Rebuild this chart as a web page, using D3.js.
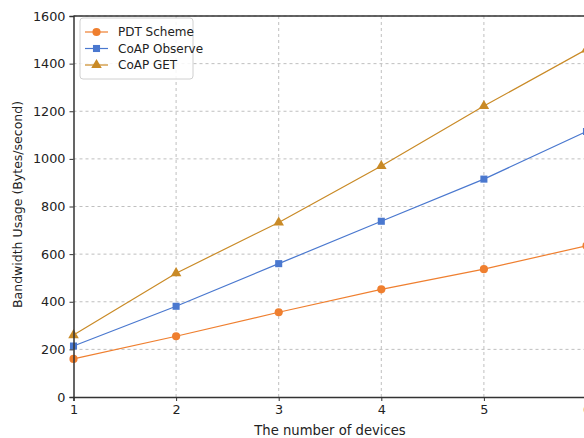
<!DOCTYPE html>
<html>
<head>
<meta charset="utf-8">
<script src="https://cdn.jsdelivr.net/npm/d3@7"></script>
<style>
  html, body { margin: 0; padding: 0; background: #fff; overflow: hidden; }
  svg { display: block; font-family: "DejaVu Sans", sans-serif; }
</style>
</head>
<body>
<svg id="chart" width="584" height="438"></svg>
<script>
const devices = [1, 2, 3, 4, 5, 6];
const pdtScheme = [160, 255, 356, 452, 537, 635];
const coapObserve = [214, 381, 560, 738, 915, 1115];
const coapGet = [260, 520, 733, 970, 1222, 1460];
const xTicks = [1, 2, 3, 4, 5, 6];
const yTicks = [0, 200, 400, 600, 800, 1000, 1200, 1400, 1600];
const seriesNames = ["PDT Scheme", "CoAP Observe", "CoAP GET"];
const seriesColors = ["#ef7f2f", "#4a78cf", "#c98a26"];
const seriesShapes = ["circle", "square", "triangle"];
const seriesData = [pdtScheme, coapObserve, coapGet];

const svg = d3.select("#chart");
const margin = { left: 73.5, top: 16, bottom: 41 };
const plotW = 513;
const plotH = 438 - margin.top - margin.bottom;

const x = d3.scaleLinear().domain([1, 6]).range([margin.left, margin.left + plotW]);
const y = d3.scaleLinear().domain([0, 1600]).range([margin.top + plotH, margin.top]);

// grid
const grid = svg.append("g");
grid.selectAll("line.gx").data(xTicks.slice(1)).enter().append("line")
  .attr("x1", d => x(d)).attr("x2", d => x(d))
  .attr("y1", margin.top).attr("y2", margin.top + plotH)
  .attr("stroke", "#b8b8b8").attr("stroke-width", 0.9).attr("stroke-dasharray", "3,3");
grid.selectAll("line.gy").data(yTicks.slice(1)).enter().append("line")
  .attr("x1", margin.left).attr("x2", margin.left + plotW)
  .attr("y1", d => y(d)).attr("y2", d => y(d))
  .attr("stroke", "#b8b8b8").attr("stroke-width", 0.9).attr("stroke-dasharray", "3,3");

// lines and markers
const symbolType = { circle: d3.symbolCircle, square: d3.symbolSquare, triangle: d3.symbolTriangle };
const symbolSize = { circle: 52, square: 50, triangle: 48 };
seriesData.forEach((vals, i) => {
  const pts = devices.map((d, j) => [d, vals[j]]);
  svg.append("path")
    .attr("d", d3.line().x(p => x(p[0])).y(p => y(p[1]))(pts))
    .attr("fill", "none").attr("stroke", seriesColors[i]).attr("stroke-width", 1.2);
  svg.selectAll(null).data(pts).enter().append("path")
    .attr("d", d3.symbol().type(symbolType[seriesShapes[i]]).size(symbolSize[seriesShapes[i]]))
    .attr("transform", p => `translate(${x(p[0])},${y(p[1])})`)
    .attr("fill", seriesColors[i]);
});

// axes
const xAxis = svg.append("g").attr("transform", `translate(0,${margin.top + plotH})`)
  .call(d3.axisBottom(x).tickValues(xTicks).tickFormat(d3.format("d")).tickSizeOuter(0).tickSize(4).tickPadding(4));
const yAxis = svg.append("g").attr("transform", `translate(${margin.left},0)`)
  .call(d3.axisLeft(y).tickValues(yTicks).tickFormat(d3.format("d")).tickSizeOuter(0).tickSize(4).tickPadding(4));
[xAxis, yAxis].forEach(a => {
  a.select(".domain").attr("stroke", "#333").attr("stroke-width", 1.5);
  a.selectAll(".tick line").attr("stroke", "#333").attr("stroke-width", 1);
  a.selectAll(".tick text").attr("fill", "#222").style("font-size", "12.8px").style("font-family", "DejaVu Sans, sans-serif");
});
// top spine
svg.append("line").attr("x1", margin.left).attr("x2", margin.left + plotW)
  .attr("y1", margin.top).attr("y2", margin.top).attr("stroke", "#333").attr("stroke-width", 1.5);

// axis titles
svg.append("text").attr("x", 330).attr("y", 434.5).attr("text-anchor", "middle")
  .style("font-size", "13.2px").attr("fill", "#222").text("The number of devices");
svg.append("text").attr("transform", `translate(22,${margin.top + plotH / 2 - 2}) rotate(-90)`)
  .attr("text-anchor", "middle").style("font-size", "12.5px").attr("fill", "#222")
  .text("Bandwidth Usage (Bytes/second)");

// legend
const lg = svg.append("g");
lg.append("rect").attr("x", 80).attr("y", 18).attr("width", 113).attr("height", 61).attr("rx", 3)
  .attr("fill", "#fff").attr("fill-opacity", 0.85).attr("stroke", "#d0d0d0").attr("stroke-width", 1);
seriesNames.forEach((name, i) => {
  const yy = 32 + i * 16.5;
  lg.append("line").attr("x1", 85).attr("x2", 108).attr("y1", yy).attr("y2", yy)
    .attr("stroke", seriesColors[i]).attr("stroke-width", 1.2);
  lg.append("path").attr("d", d3.symbol().type(symbolType[seriesShapes[i]]).size(symbolSize[seriesShapes[i]]))
    .attr("transform", `translate(96.5,${yy})`).attr("fill", seriesColors[i]);
  lg.append("text").attr("x", 118).attr("y", yy + 4.3).style("font-size", "12px").attr("fill", "#222").text(name);
});
</script>
</body>
</html>
